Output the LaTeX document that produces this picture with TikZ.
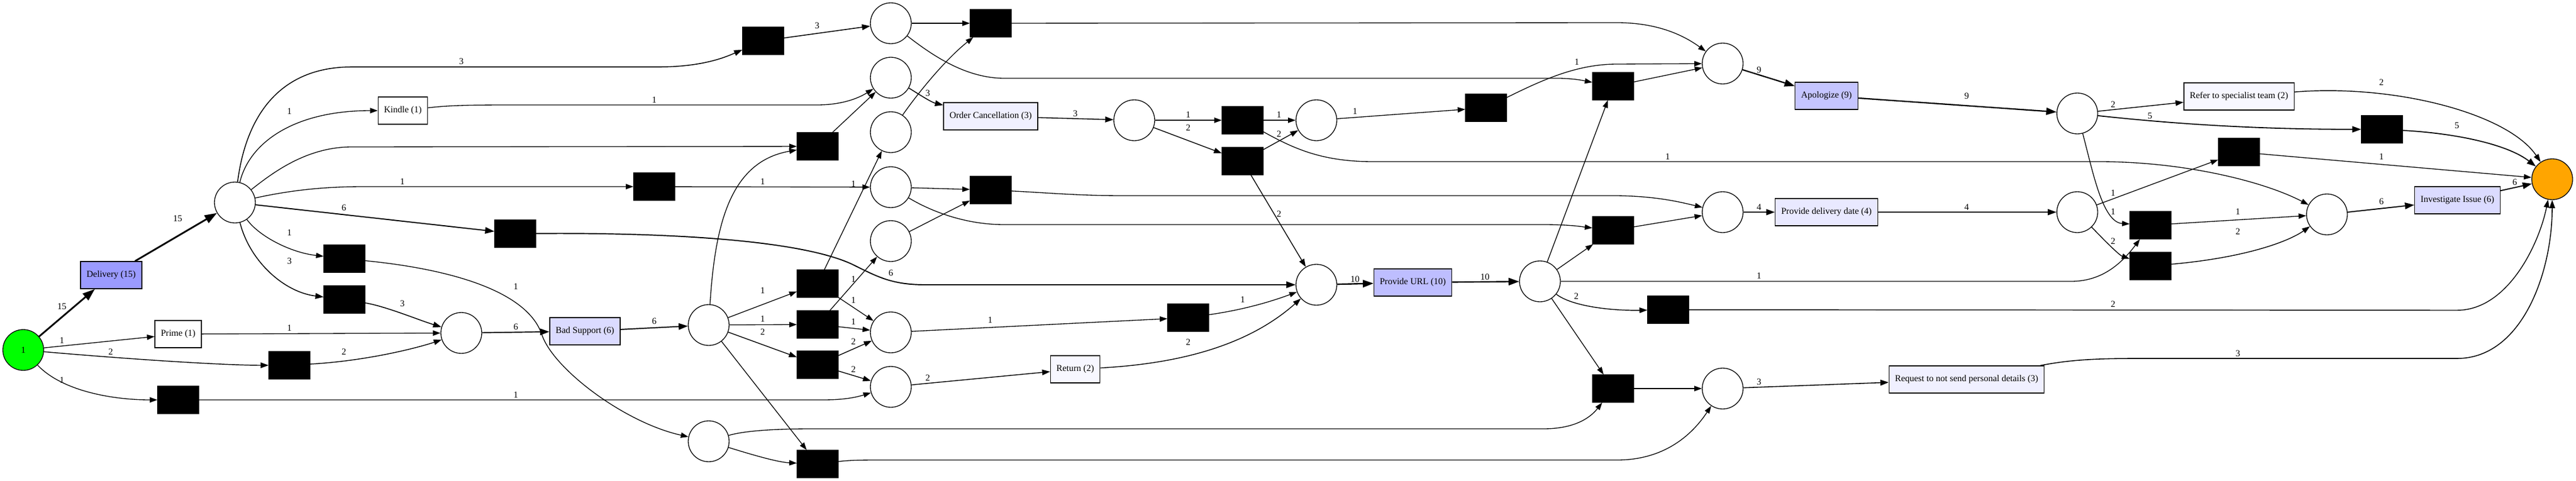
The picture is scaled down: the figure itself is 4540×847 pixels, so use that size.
\documentclass[tikz,border=0pt]{standalone}
\usepackage{fontspec}
\setmainfont{Liberation Serif}
\usepackage{xcolor}
\usetikzlibrary{arrows.meta}

\definecolor{srcgreen}{HTML}{00FF00}
\definecolor{sinkorange}{HTML}{FFA500}
\definecolor{f15}{HTML}{9B9BFF}
\definecolor{f10}{HTML}{BEBEFF}
\definecolor{f9}{HTML}{C5C5FF}
\definecolor{f6}{HTML}{DBDBFF}
\definecolor{f4}{HTML}{E9E9FF}
\definecolor{f3}{HTML}{F0F0FF}
\definecolor{f2}{HTML}{F7F7FF}

\begin{document}
\begin{tikzpicture}[x=0.75pt,y=0.75pt,yscale=-1,xscale=1,
  font=\fontsize{12}{14}\selectfont,
  place/.style={circle,draw,line width=1pt,fill=white,minimum size=54pt,inner sep=0pt},
  trans/.style={rectangle,draw,line width=1pt,minimum height=36pt,minimum width=54pt,inner xsep=7.92pt,inner ysep=3pt},
  silent/.style={rectangle,draw,line width=1pt,fill=black,minimum height=36pt,minimum width=54pt},
  arc/.style={-{Triangle[length=5pt 5,width=3.5pt 3.5]},line width=1pt},
  a2/.style={line width=1.09pt},
  a3/.style={line width=1.18pt},
  a4/.style={line width=1.27pt},
  a5/.style={line width=1.36pt},
  a6/.style={line width=1.45pt},
  a9/.style={line width=1.71pt},
  a10/.style={line width=1.8pt},
  a15/.style={line width=2.25pt},
  wl/.style={inner sep=1pt}]
\useasboundingbox (0,0) rectangle (4540,847);

%Places
\node[place,fill=srcgreen] (src) at (41,617) {1};
\node[place] (p1) at (414,357) {};
\node[place] (pJ) at (813,587) {};
\node[place] (pK) at (1249,573) {};
\node[place] (pL) at (1249,778) {};
\node[place] (pA) at (1570,41) {};
\node[place] (pB) at (1570,137) {};
\node[place] (pC) at (1570,233) {};
\node[place] (pD) at (1570,330) {};
\node[place] (pE) at (1570,425) {};
\node[place] (pF) at (1570,586) {};
\node[place] (pG) at (1570,682) {};
\node[place] (pH) at (1999,212) {};
\node[place] (pM) at (2320,212) {};
\node[place] (pI) at (2320,502) {};
\node[place] (pS) at (2714,496) {};
\node[place] (pT) at (3036,112) {};
\node[place] (pV) at (3036,374) {};
\node[place] (pR) at (3036,685) {};
\node[place] (pU) at (3661,200) {};
\node[place] (pW) at (3661,374) {};
\node[place] (pX) at (4101,378) {};
\node[place,fill=sinkorange] (sink) at (4498,316) {};

%Transitions
\node[trans,fill=f15] (delivery) at (196,485) {Delivery (15)};
\node[trans,fill=white] (kindle) at (710,195) {Kindle (1)};
\node[trans,fill=white] (prime) at (314,589) {Prime (1)};
\node[trans,fill=f6] (badsup) at (1031,584) {Bad Support (6)};
\node[trans,fill=f3] (ordcan) at (1746,205) {Order Cancellation (3)};
\node[trans,fill=f2] (return) at (1895,651) {Return (2)};
\node[trans,fill=f10] (url) at (2490,498) {Provide URL (10)};
\node[trans,fill=f9] (apol) at (3219,169) {Apologize (9)};
\node[trans,fill=f4] (pdd) at (3219,374) {Provide delivery date (4)};
\node[trans,fill=f3] (req) at (3466,669) {Request to not send personal details (3)};
\node[trans,fill=f2] (refer) at (3946,170) {Refer to specialist team (2)};
\node[trans,fill=f6] (invest) at (4331,353) {Investigate Issue (6)};

%Silent transitions
\node[silent] (tau1) at (607,456) {};
\node[silent] (tau2) at (607,528) {};
\node[silent] (tau3) at (510,644) {};
\node[silent] (tau4) at (314,705) {};
\node[silent] (tTop) at (1345,72) {};
\node[silent] (tM) at (1441,258) {};
\node[silent] (tF) at (1153,329) {};
\node[silent] (tG) at (908,412) {};
\node[silent] (tH) at (1441,500) {};
\node[silent] (tI) at (1441,572) {};
\node[silent] (tJ) at (1441,643) {};
\node[silent] (tK) at (1441,818) {};
\node[silent] (tA) at (1746,41) {};
\node[silent] (tD) at (1746,335) {};
\node[silent] (tB) at (2190,212) {};
\node[silent] (tC) at (2190,284) {};
\node[silent] (tE) at (2094,560) {};
\node[silent] (tO) at (2619,190) {};
\node[silent] (tP) at (2843,152) {};
\node[silent] (tQ) at (2843,406) {};
\node[silent] (tN) at (2843,685) {};
\node[silent] (tR) at (2940,546) {};
\node[silent] (tS) at (4198,228) {};
\node[silent] (tT) at (3946,268) {};
\node[silent] (tU) at (3790,397) {};
\node[silent] (tV) at (3790,469) {};

%Arcs from the source
\draw[arc,a15] (src) -- (delivery) node[wl] (w1) at (109,540) {15};
\draw[arc,a15] (delivery) -- (p1) node[wl] (w2) at (313,385) {15};
\draw[arc] (src) -- (prime) node[wl] (w3) at (109,600) {1};
\draw[arc,a2] (src) .. controls (250,635) and (400,644) .. (tau3) node[wl] (w4) at (195,620) {2};
\draw[arc] (src) .. controls (110,690) and (200,705) .. (tau4) node[wl] (w5) at (109,670) {1};

%Arcs from p1
\draw[arc,a3] (p1) .. controls (435,195) and (500,118) .. (620,118) -- (1160,118) .. controls (1240,118) and (1280,100) .. (tTop) node[wl] (w6) at (813,108) {3};
\draw[arc] (p1) .. controls (440,250) and (520,195) .. (kindle) node[wl] (w7) at (510,196) {1};
\draw[arc] (p1) .. controls (480,305) and (540,259) .. (620,259) -- (tM);
\draw[arc] (p1) .. controls (500,338) and (560,329) .. (640,329) -- (tF) node[wl] (w8) at (709,320) {1};
\draw[arc,a6] (p1) -- (tG) node[wl] (w9) at (606,366) {6};
\draw[arc] (p1) .. controls (455,415) and (510,445) .. (tau1) node[wl] (w10) at (510,410) {1};
\draw[arc,a3] (p1) .. controls (440,460) and (500,515) .. (tau2) node[wl] (w11) at (510,460) {3};

%Arcs into and out of Bad Support
\draw[arc] (tau1) .. controls (800,475) and (930,515) .. (955,590) .. controls (975,650) and (1100,745) .. (pL) node[wl] (w12) at (909,505) {1};
\draw[arc,a3] (tau2) .. controls (680,540) and (740,565) .. (pJ) node[wl] (w13) at (709,535) {3};
\draw[arc] (prime) -- (pJ) node[wl] (w14) at (510,578) {1};
\draw[arc,a2] (tau3) .. controls (650,636) and (740,612) .. (pJ) node[wl] (w15) at (606,620) {2};
\draw[arc] (tau4) -- (1450,705) .. controls (1490,705) and (1510,700) .. (pG) node[wl] (w16) at (909,696) {1};
\draw[arc,a6] (pJ) -- (badsup) node[wl] (w17) at (909,576) {6};
\draw[arc,a6] (badsup) -- (pK) node[wl] (w18) at (1153,566) {6};
\draw[arc] (pK) -- (tH) node[wl] (w19) at (1344,512) {1};
\draw[arc] (pK) -- (tI) node[wl] (w20) at (1344,562) {1};
\draw[arc,a2] (pK) -- (tJ) node[wl] (w21) at (1344,585) {2};
\draw[arc] (pK) -- (tK);
\draw[arc] (pK) .. controls (1260,400) and (1285,285) .. (tM);
\draw[arc] (pL) .. controls (1320,800) and (1370,815) .. (tK);
\draw[arc] (pL) .. controls (1310,760) and (1360,756) .. (1430,756) -- (2720,756) .. controls (2770,756) and (2800,740) .. (tN);
\draw[arc] (tK) .. controls (1500,811) and (1520,811) .. (1560,811) -- (2850,811) .. controls (2930,811) and (2980,770) .. (pR);

%Arcs in the middle
\draw[arc,a3] (tTop) -- (pA) node[wl] (w22) at (1440,45) {3};
\draw[arc] (kindle) .. controls (790,186) and (820,185) .. (900,185) -- (1440,185) .. controls (1480,185) and (1510,175) .. (pB) node[wl] (w23) at (1153,176) {1};
\draw[arc] (tM) -- (pB);
\draw[arc] (tF) -- (pD) node[wl] (w24) at (1344,320) {1};
\draw[arc,a6] (tG) .. controls (1150,410) and (1400,420) .. (1500,465) .. controls (1545,487) and (1570,502) .. (1630,502) -- (pI) node[wl] (w25) at (1570,481) {6};
\draw[arc] (tH) -- (pC) node[wl] (w26) at (1504,324) {1};
\draw[arc] (tH) -- (pF) node[wl] (w27) at (1504,529) {1};
\draw[arc] (tI) -- (pE) node[wl] (w28) at (1504,492) {1};
\draw[arc] (tI) -- (pF) node[wl] (w29) at (1504,567) {1};
\draw[arc,a2] (tJ) -- (pF) node[wl] (w30) at (1504,602) {2};
\draw[arc,a2] (tJ) -- (pG) node[wl] (w31) at (1504,651) {2};
\draw[arc] (pA) -- (tA);
\draw[arc] (pA) .. controls (1640,95) and (1700,138) .. (1770,138) -- (2750,138) .. controls (2780,139) and (2795,143) .. (tP);
\draw[arc,a3] (pB) .. controls (1610,160) and (1640,180) .. (ordcan) node[wl] (w32) at (1635,164) {3};
\draw[arc] (pC) .. controls (1610,175) and (1660,110) .. (tA);
\draw[arc] (pD) -- (tD);
\draw[arc] (pD) .. controls (1640,372) and (1700,396) .. (1770,396) -- (2720,396) .. controls (2770,396) and (2790,400) .. (tQ);
\draw[arc] (pE) -- (tD);
\draw[arc] (tD) .. controls (1850,340) and (1900,345) .. (1980,345) -- (2850,345) .. controls (2920,346) and (2960,356) .. (pV);
\draw[arc,a3] (ordcan) -- (pH) node[wl] (w33) at (1895,200) {3};
\draw[arc] (pH) -- (tB) node[wl] (w34) at (2094,202) {1};
\draw[arc,a2] (pH) -- (tC) node[wl] (w35) at (2094,225) {2};
\draw[arc] (tB) -- (pM) node[wl] (w36) at (2254,202) {1};
\draw[arc,a2] (tC) -- (pM) node[wl] (w37) at (2254,236) {2};
\draw[arc] (tB) .. controls (2280,262) and (2330,285) .. (2420,285) -- (3700,285) .. controls (3850,285) and (3990,320) .. (pX) node[wl] (w38) at (2939,276) {1};
\draw[arc,a2] (tC) -- (pI) node[wl] (w39) at (2254,377) {2};
\draw[arc] (pF) -- (tE) node[wl] (w65) at (1745,564) {1};
\draw[arc] (tE) .. controls (2200,545) and (2250,528) .. (pI) node[wl] (w66) at (2190,528) {1};
\draw[arc,a2] (pG) -- (return) node[wl] (w67) at (1635,666) {2};
\draw[arc,a2] (return) .. controls (2100,640) and (2210,600) .. (pI) node[wl] (w68) at (2094,603) {2};

%Arcs around Provide URL
\draw[arc] (tA) -- (2850,40) .. controls (2930,40) and (2975,68) .. (pT);
\draw[arc] (pM) -- (tO) node[wl] (w40) at (2388,196) {1};
\draw[arc] (tO) .. controls (2720,140) and (2780,113) .. (2850,113) -- (pT) node[wl] (w41) at (2779,109) {1};
\draw[arc] (tP) -- (pT);
\draw[arc] (tQ) -- (pV);
\draw[arc,a10] (pI) -- (url) node[wl] (w42) at (2388,492) {10};
\draw[arc,a10] (url) -- (pS) node[wl] (w43) at (2617,488) {10};
\draw[arc] (pS) -- (tP);
\draw[arc] (pS) -- (tQ);
\draw[arc] (pS) -- (tN);
\draw[arc] (pS) -- (3650,496) .. controls (3700,496) and (3735,470) .. (tU) node[wl] (w44) at (3100,486) {1};
\draw[arc,a2] (pS) .. controls (2770,540) and (2840,548) .. (tR) node[wl] (w45) at (2778,522) {2};
\draw[arc,a2] (tR) -- (4330,547) .. controls (4420,547) and (4475,430) .. (sink) node[wl] (w46) at (3724,536) {2};
\draw[arc] (tN) -- (pR);

%Arcs to the sink
\draw[arc,a9] (pT) -- (apol) node[wl] (w47) at (3100,123) {9};
\draw[arc,a9] (apol) -- (pU) node[wl] (w48) at (3466,169) {9};
\draw[arc,a4] (pV) -- (pdd) node[wl] (w49) at (3100,365) {4};
\draw[arc,a4] (pdd) -- (pW) node[wl] (w50) at (3466,365) {4};
\draw[arc,a3] (pR) -- (req) node[wl] (w51) at (3100,673) {3};
\draw[arc,a3] (req) .. controls (3640,636) and (3680,632) .. (3760,632) -- (4330,632) .. controls (4445,632) and (4498,480) .. (sink) node[wl] (w52) at (3944,623) {3};
\draw[arc,a2] (pU) -- (refer) node[wl] (w53) at (3724,184) {2};
\draw[arc,a5] (pU) .. controls (3800,215) and (3950,228) .. (tS) node[wl] (w54) at (3789,204) {5};
\draw[arc] (pU) .. controls (3688,300) and (3705,392) .. (tU) node[wl] (w55) at (3724,373) {1};
\draw[arc] (pW) -- (tT) node[wl] (w56) at (3724,340) {1};
\draw[arc,a2] (pW) .. controls (3710,425) and (3735,450) .. (tV) node[wl] (w57) at (3724,425) {2};
\draw[arc,a2] (refer) .. controls (4220,148) and (4420,200) .. (sink) node[wl] (w58) at (4197,145) {2};
\draw[arc,a5] (tS) .. controls (4330,235) and (4420,255) .. (sink) node[wl] (w59) at (4330,221) {5};
\draw[arc] (tT) -- (sink) node[wl] (w60) at (4197,276) {1};
\draw[arc,a6] (pX) -- (invest) node[wl] (w61) at (4197,355) {6};
\draw[arc,a6] (invest) -- (sink) node[wl] (w62) at (4432,321) {6};
\draw[arc] (tU) -- (pX) node[wl] (w63) at (3944,373) {1};
\draw[arc,a2] (tV) .. controls (3950,455) and (4030,428) .. (pX) node[wl] (w64) at (3944,408) {2};
\end{tikzpicture}
\end{document}
